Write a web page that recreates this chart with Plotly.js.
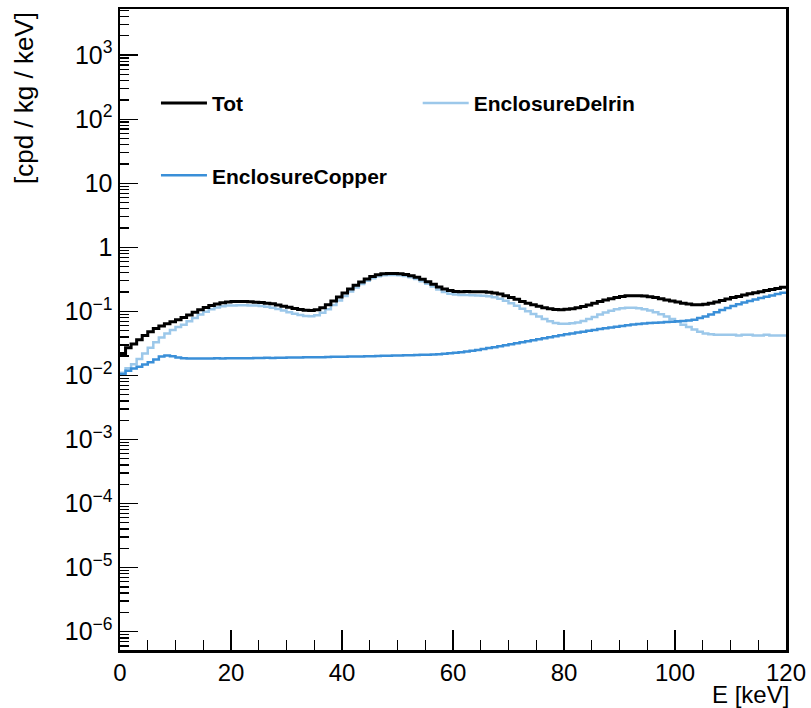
<!DOCTYPE html>
<html>
<head>
<meta charset="utf-8">
<script src="https://cdn.plot.ly/plotly-3.0.1.min.js"></script>
<style>
html,body{margin:0;padding:0;background:#fff;}
#chart{width:811px;height:708px;}
</style>
</head>
<body>
<div id="chart"></div>
<script>
// Energy binning: 120 bins of 1 keV from 0 to 120 keV
const binLow = 0;
const binWidth = 1;
const seriesNames = ["Tot", "EnclosureDelrin", "EnclosureCopper"];

const totValues = [
  0.022,0.027,0.031,0.036,0.042,0.048,0.054,0.059,0.064,0.069,
  0.074,0.080,0.088,0.097,0.106,0.115,0.123,0.130,0.136,0.140,
  0.142,0.143,0.142,0.141,0.139,0.137,0.134,0.131,0.126,0.120,
  0.116,0.111,0.107,0.104,0.103,0.106,0.114,0.127,0.145,0.167,
  0.194,0.224,0.256,0.288,0.320,0.350,0.372,0.386,0.391,0.391,
  0.386,0.376,0.361,0.341,0.317,0.291,0.266,0.241,0.223,0.211,
  0.205,0.203,0.204,0.203,0.202,0.202,0.199,0.194,0.186,0.176,
  0.165,0.154,0.143,0.134,0.127,0.120,0.114,0.110,0.107,0.106,
  0.108,0.110,0.114,0.119,0.126,0.134,0.143,0.151,0.158,0.165,
  0.171,0.175,0.176,0.176,0.173,0.169,0.164,0.157,0.151,0.145,
  0.140,0.134,0.130,0.127,0.127,0.129,0.134,0.140,0.148,0.156,
  0.164,0.171,0.180,0.188,0.195,0.203,0.212,0.219,0.228,0.238
];

const delrinValues = [
  0.011,0.013,0.015,0.018,0.022,0.027,0.033,0.039,0.045,0.051,
  0.057,0.062,0.070,0.079,0.089,0.099,0.108,0.115,0.120,0.123,
  0.124,0.125,0.125,0.124,0.123,0.121,0.118,0.114,0.109,0.103,
  0.097,0.092,0.088,0.085,0.084,0.087,0.095,0.108,0.126,0.148,
  0.174,0.204,0.236,0.268,0.300,0.330,0.352,0.366,0.371,0.371,
  0.366,0.355,0.340,0.320,0.296,0.270,0.245,0.220,0.201,0.189,
  0.183,0.180,0.180,0.179,0.177,0.176,0.172,0.166,0.157,0.146,
  0.134,0.122,0.110,0.100,0.091,0.083,0.076,0.070,0.066,0.064,
  0.064,0.065,0.067,0.071,0.076,0.082,0.089,0.096,0.102,0.108,
  0.112,0.114,0.114,0.112,0.108,0.103,0.097,0.090,0.083,0.076,
  0.069,0.062,0.057,0.052,0.048,0.045,0.044,0.043,0.043,0.043,
  0.043,0.042,0.043,0.043,0.042,0.042,0.043,0.042,0.042,0.042
];

const copperValues = [
  0.0105,0.0118,0.0128,0.0137,0.0148,0.0160,0.0178,0.0198,0.0204,0.0199,
  0.0191,0.0186,0.0183,0.0183,0.0184,0.0183,0.0184,0.0185,0.0184,0.0185,
  0.0186,0.0186,0.0185,0.0186,0.0187,0.0187,0.0188,0.0187,0.0188,0.0189,
  0.0190,0.0190,0.0191,0.0192,0.0192,0.0193,0.0193,0.0194,0.0195,0.0195,
  0.0196,0.0197,0.0197,0.0198,0.0199,0.0200,0.0201,0.0202,0.0203,0.0204,
  0.0205,0.0206,0.0207,0.0208,0.0210,0.0211,0.0213,0.0215,0.0218,0.0221,
  0.0225,0.0230,0.0236,0.0243,0.0250,0.0258,0.0267,0.0276,0.0286,0.0296,
  0.0307,0.0318,0.0330,0.0342,0.0355,0.0368,0.0382,0.0396,0.0410,0.0424,
  0.0438,0.0452,0.0467,0.0482,0.0497,0.0513,0.0529,0.0545,0.0561,0.0577,
  0.0593,0.0608,0.0622,0.0635,0.0646,0.0656,0.0665,0.0673,0.0681,0.0689,
  0.0698,0.0708,0.0720,0.0740,0.0790,0.0830,0.0890,0.0970,0.1050,0.1130,
  0.1210,0.1290,0.1370,0.1450,0.1530,0.1610,0.1690,0.1770,0.1860,0.1960
];

const yTickVals = [1e-6, 1e-5, 1e-4, 1e-3, 1e-2, 1e-1, 1, 10, 100, 1000];
const yTickText = ["10<sup>\u22126</sup>","10<sup>\u22125</sup>","10<sup>\u22124</sup>","10<sup>\u22123</sup>",
                   "10<sup>\u22122</sup>","10<sup>\u22121</sup>","1","10","10<sup>2</sup>","10<sup>3</sup>"];

// Build step-histogram coordinates from bin edges
function edges(n){ const e=[]; for(let i=0;i<=n;i++) e.push(binLow + i*binWidth); return e; }
function stepY(v){ return v.concat([v[v.length-1]]); }

// minor log ticks (2..9 per decade)
const minorVals = [];
for(let k=-7;k<=3;k++){ for(let m=2;m<=9;m++){ minorVals.push(m*Math.pow(10,k)); } }

const FONT = "Liberation Sans, Arial, Helvetica, sans-serif";

const traces = [
  {x: edges(delrinValues.length), y: stepY(delrinValues), name: seriesNames[1], type:"scatter", mode:"lines",
   line:{shape:"hv", color:"#9cc8ea", width:2.5}, legend:"legend2"},
  {x: edges(copperValues.length), y: stepY(copperValues), name: seriesNames[2], type:"scatter", mode:"lines",
   line:{shape:"hv", color:"#3a8fd8", width:2.5}, legend:"legend3"},
  {x: edges(totValues.length), y: stepY(totValues), name: seriesNames[0], type:"scatter", mode:"lines",
   line:{shape:"hv", color:"#000000", width:3}, legend:"legend"}
];

const legFont = {family: FONT, size: 21, color:"#000", weight: 700};
const legBase = {bgcolor:"rgba(0,0,0,0)", borderwidth:0, font: legFont, itemwidth: 46,
                 xanchor:"left", yanchor:"middle", orientation:"v", itemclick:false};

const layout = {
  width: 811, height: 708,
  margin: {l:120, r:25, t:9, b:58, pad:0},
  paper_bgcolor:"#fff", plot_bgcolor:"#fff",
  showlegend: true,
  font: {family: FONT, size: 24, color:"#000"},
  xaxis: {
    range:[0,120], showgrid:false, zeroline:false,
    showline:true, linecolor:"#000", linewidth:2.5, mirror:true,
    ticks:"inside", ticklen:20, tickwidth:1.3, tickcolor:"#000",
    dtick:20, tick0:0,
    tickfont:{family:FONT, size:24, color:"#000"},
    minor:{ticks:"inside", ticklen:10, tickwidth:1.3, tickcolor:"#000", dtick:5, tick0:0, showgrid:false}
  },
  yaxis: {
    type:"log", range:[-6.286, 3.72], showgrid:false, zeroline:false,
    showline:true, linecolor:"#000", linewidth:2.5, mirror:true,
    ticks:"inside", ticklen:18, tickwidth:1.3, tickcolor:"#000",
    tickmode:"array", tickvals:yTickVals, ticktext:yTickText,
    tickfont:{family:FONT, size:25, color:"#000"},
    minor:{ticks:"inside", ticklen:9, tickwidth:1.3, tickcolor:"#000", tickmode:"array", tickvals:minorVals, showgrid:false}
  },
  legend: Object.assign({}, legBase, {x:0.054, y:0.853}),
  legend2: Object.assign({}, legBase, {x:0.447, y:0.853}),
  legend3: Object.assign({}, legBase, {x:0.054, y:0.740}),
  annotations: [
    {text:"[cpd / kg / keV]", xref:"paper", yref:"paper", x:-0.143, y:0.998, xanchor:"center", yanchor:"top",
     textangle:-90, showarrow:false, font:{family:FONT, size:26, color:"#000"}},
    {text:"E [keV]", xref:"paper", yref:"paper", x:1.006, y:-0.0695, xanchor:"right", yanchor:"middle",
     showarrow:false, borderpad:0, font:{family:FONT, size:24, color:"#000"}}
  ]
};

Plotly.newPlot("chart", traces, layout, {displayModeBar:false, staticPlot:true});
</script>
</body>
</html>
